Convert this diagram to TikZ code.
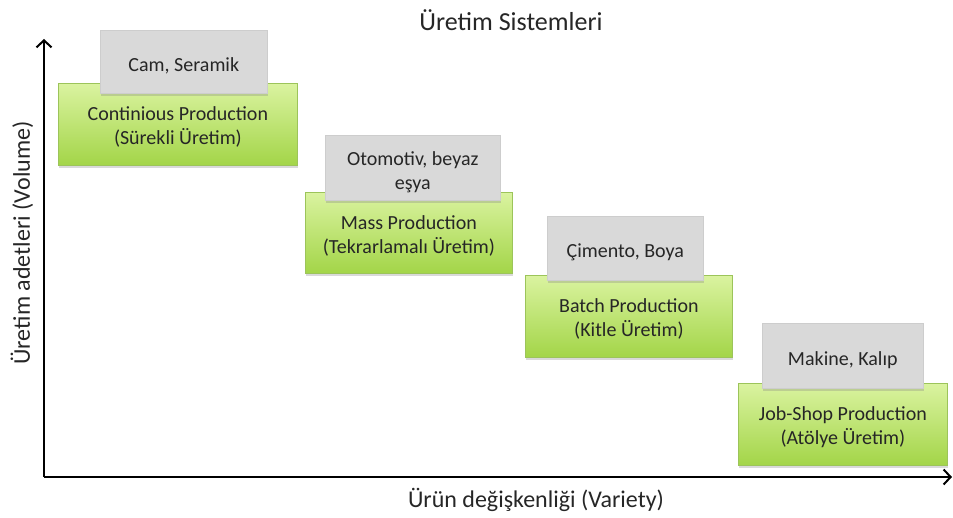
\documentclass[tikz,border=0pt]{standalone}
\usepackage{fontspec}
\setmainfont{Carlito}
\usetikzlibrary{arrows.meta,shadows}
\definecolor{gEdge}{HTML}{9CC45A}
\definecolor{gTop}{HTML}{DAF3A0}
\definecolor{gBot}{HTML}{A3D548}
\definecolor{grayFill}{HTML}{D9D9D9}
\definecolor{grayEdge}{HTML}{CDCDCD}
\definecolor{txt}{HTML}{262626}
\begin{document}
\begin{tikzpicture}[x=1pt,y=-1pt,
  boxbase/.style={anchor=north west, inner sep=0pt,
    drop shadow={shadow xshift=1pt, shadow yshift=-2.5pt, opacity=0.3}},
  greenbox/.style={boxbase, draw=gEdge, line width=0.8pt, top color=gTop, bottom color=gBot},
  graybox/.style={boxbase, draw=grayEdge, line width=0.6pt, fill=grayFill},
  boxtext/.style={align=center, text=txt, inner sep=0pt, font=\fontsize{20}{24}\selectfont},
  axis/.style={line width=2.6pt, -{Straight Barb[length=7pt, width=15pt, line width=2pt]}},
  label/.style={text=txt, font=\fontsize{24}{28}\selectfont}]
  \useasboundingbox (0,0) rectangle (953,518);

  % axes
  \coordinate (o) at (44,477);
  \coordinate (ytop) at (44,39);
  \coordinate (xend) at (952,477);
  \draw[axis] (o) -- (ytop);
  \draw[axis] (o) -- (xend);

  % captions
  \node[label, font=\fontsize{26}{30}\selectfont] (title) at (511,20) {Üretim Sistemleri};
  \node[label, rotate=90] (ylab) at (22,243) {Üretim adetleri (Volume)};
  \node[label] (xlab) at (536,500) {Ürün değişkenliği (Variety)};

  % continuous production
  \node[greenbox, minimum width=239pt, minimum height=82pt] (g1) at (58,83) {};
  \node[boxtext] (g1t) at ([yshift=-3pt]g1.center) {Continious Production\\(Sürekli Üretim)};
  \node[graybox, minimum width=167pt, minimum height=63pt] (s1) at (100,30) {};
  \node[boxtext] (s1t) at ([yshift=-4pt]s1.center) {Cam, Seramik};

  % mass production
  \node[greenbox, minimum width=207pt, minimum height=81pt] (g2) at (305,192) {};
  \node[boxtext] (g2t) at ([yshift=-3pt]g2.center) {Mass Production\\(Tekrarlamalı Üretim)};
  \node[graybox, minimum width=175pt, minimum height=65pt] (s2) at (325,135) {};
  \node[boxtext] (s2t) at ([yshift=-4pt]s2.center) {Otomotiv, beyaz\\eşya};

  % batch production
  \node[greenbox, minimum width=207pt, minimum height=82pt] (g3) at (525,275) {};
  \node[boxtext] (g3t) at ([yshift=-3pt]g3.center) {Batch Production\\(Kitle Üretim)};
  \node[graybox, minimum width=156pt, minimum height=64pt] (s3) at (547,216) {};
  \node[boxtext] (s3t) at ([yshift=-4pt]s3.center) {Çimento, Boya};

  % job-shop production
  \node[greenbox, minimum width=209pt, minimum height=82pt] (g4) at (738,383) {};
  \node[boxtext] (g4t) at ([yshift=-3pt]g4.center) {Job-Shop Production\\(Atölye Üretim)};
  \node[graybox, minimum width=161pt, minimum height=65pt] (s4) at (762,323) {};
  \node[boxtext] (s4t) at ([yshift=-4pt]s4.center) {Makine, Kalıp};
\end{tikzpicture}
\end{document}
